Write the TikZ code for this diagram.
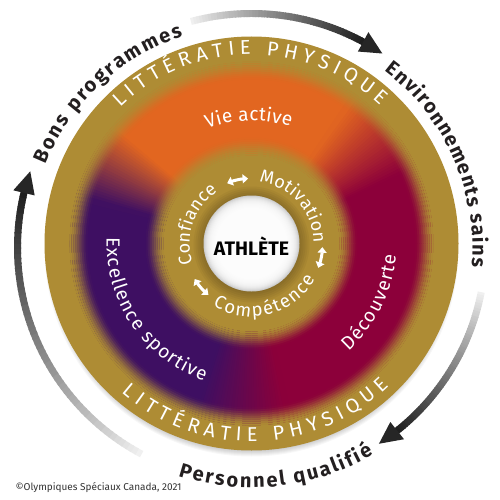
\documentclass[tikz,border=0pt]{standalone}
\usepackage{fontspec}
\setmainfont{Fira Sans}
\usetikzlibrary{decorations.text,arrows.meta}
\definecolor{gold}{RGB}{174,140,52}
\definecolor{ora}{RGB}{226,102,32}
\definecolor{crim}{RGB}{140,0,58}
\definecolor{purp}{RGB}{62,15,98}
\definecolor{ink}{RGB}{35,31,32}
\newcommand\arctext[6]{\path[decorate,decoration={text along path,text={|#4|#5},text align=#6}] (#2:#1) arc[start angle=#2,end angle=#3,radius=#1];}
\newcommand\sect[3]{\fill[#3] (#1:88) arc[start angle=#1,end angle=#2,radius=88] -- (#2:182) arc[start angle=#2,end angle=#1,radius=182] -- cycle;}
\newcommand\garrow[3]{%
 \foreach \i in {0,...,59}{%
   \pgfmathsetmacro\aa{#1+(#2-#1)*\i/60}%
   \pgfmathsetmacro\bb{#1+(#2-#1)*(\i+1.3)/60}%
   \pgfmathtruncatemacro\p{6+82*(\i/59)^0.9}%
   \draw[line width=7,black!\p] (\aa:234) arc[start angle=\aa,end angle=\bb,radius=234];}%
 \fill[black!85] (#2:245) -- (#3:234) -- (#2:223) -- cycle;}
\tikzset{dbl/.style={white,line width=3,{Triangle[length=5.5pt,width=9pt]}-{Triangle[length=5.5pt,width=9pt]}}}
\begin{document}
\begin{tikzpicture}[x=1pt,y=1pt]
\useasboundingbox (0,0) rectangle (500,499);
\fill[white] (0,0) rectangle (500,499);
\begin{scope}[shift={(251.5,255.5)}]
 % drop shadow
 \foreach \r in {0,...,8} \fill[black,opacity=0.03] (0,-6) circle ({199+\r});
 \fill[gold] (0,0) circle (207);
 % colour ring
 \sect{54}{141}{ora}
 \sect{164}{253}{purp}
 \sect{281}{386}{crim}
 \foreach \a in {25,...,54}{\pgfmathtruncatemacro\p{(\a+0.5-25)/30*100}\pgfmathsetmacro\b{\a+2.2}\sect{\a}{\b}{ora!\p!crim}}
 \foreach \a in {140,...,164}{\pgfmathtruncatemacro\p{(165-\a-0.5)/25*100}\pgfmathsetmacro\b{\a+2.2}\sect{\a}{\b}{ora!\p!purp}}
 \foreach \a in {252,...,281}{\pgfmathtruncatemacro\p{(282-\a-0.5)/30*100}\pgfmathsetmacro\b{\a+2.2}\sect{\a}{\b}{purp!\p!crim}}
 % gold blending
 \foreach \r in {162,164,...,184}{\pgfmathsetmacro\t{min(1,max(0,(\r-162)/20))}\pgfmathsetmacro\o{\t*\t*(3-2*\t)}\draw[gold,opacity=\o,line width=2] (0,0) circle ({\r+1});}
 \foreach \r in {86,88,...,106}{\pgfmathsetmacro\t{min(1,max(0,(106-\r)/20))}\pgfmathsetmacro\o{\t*\t*(3-2*\t)}\draw[gold,opacity=\o,line width=2] (0,0) circle ({\r+1});}
 % white centre
 \foreach \r in {58,56,...,48} \fill[black,opacity=0.04] (0,-1) circle (\r);
 \fill[white!80!black] (0,0) circle (48);
 \foreach \r in {47,46,...,36} \fill[white,opacity=0.25] (0,0) circle (\r);
 \node (ath) at (0,-2.5) {\fontsize{19.5}{20}\selectfont\bfseries ATHLÈTE};
 % ring texts
 \arctext{189}{134}{47}{\fontsize{20}{20}\selectfont\color{white}}{LITTÉRATIE PHYSIQUE}{{fit to path=true}}
 \arctext{198}{229}{314}{\fontsize{20}{20}\selectfont\color{white}}{LITTÉRATIE PHYSIQUE}{{fit to path=true}}
 \arctext{123}{111}{71.5}{\fontsize{19}{19}\selectfont\color{white}}{Vie active}{{fit to path=true}}
 \arctext{145}{-48}{-4.6}{\fontsize{19}{19}\selectfont\color{white}}{Découverte}{{fit to path=true}}
 \arctext{145}{177.6}{251}{\fontsize{19}{19}\selectfont\color{white}}{Excellence sportive}{{fit to path=true}}
 \arctext{62}{83}{0}{\fontsize{18}{18}\selectfont\color{white}}{Motivation}{{fit to path=true}}
 \arctext{62}{199}{123}{\fontsize{18}{18}\selectfont\color{white}}{Confiance}{{fit to path=true}}
 \arctext{73}{238}{330.5}{\fontsize{18.5}{18.5}\selectfont\color{white}}{Compétence}{{fit to path=true}}
 % inner double arrows
 \draw[dbl] (112:65) arc[start angle=112,end angle=93,radius=65];
 \draw[dbl] (-3:71) arc[start angle=-3,end angle=-20,radius=71];
 \draw[dbl] (212:67) arc[start angle=212,end angle=230,radius=67];
\end{scope}
\begin{scope}[shift={(251.5,251.5)}]
 \garrow{105}{61.5}{56}
 \garrow{-11}{-51.5}{-57}
 \garrow{242}{166.5}{161}
 \arctext{222}{158}{108}{\fontsize{20}{20}\selectfont\bfseries\color{ink}}{Bons programmes}{{fit to path=true}}
 \arctext{221}{53}{-5}{\fontsize{20}{20}\selectfont\bfseries\color{ink}}{Environnements sains}{{fit to path=true}}
 \arctext{240}{252.2}{300.5}{\fontsize{20}{20}\selectfont\bfseries\color{ink}}{Personnel qualifié}{{fit to path=true}}
\end{scope}
\node[anchor=base west,text=black!80,font=\fontsize{10}{10}\selectfont] (copy) at (12,9) {©Olympiques Spéciaux Canada, 2021};
\end{tikzpicture}
\end{document}
